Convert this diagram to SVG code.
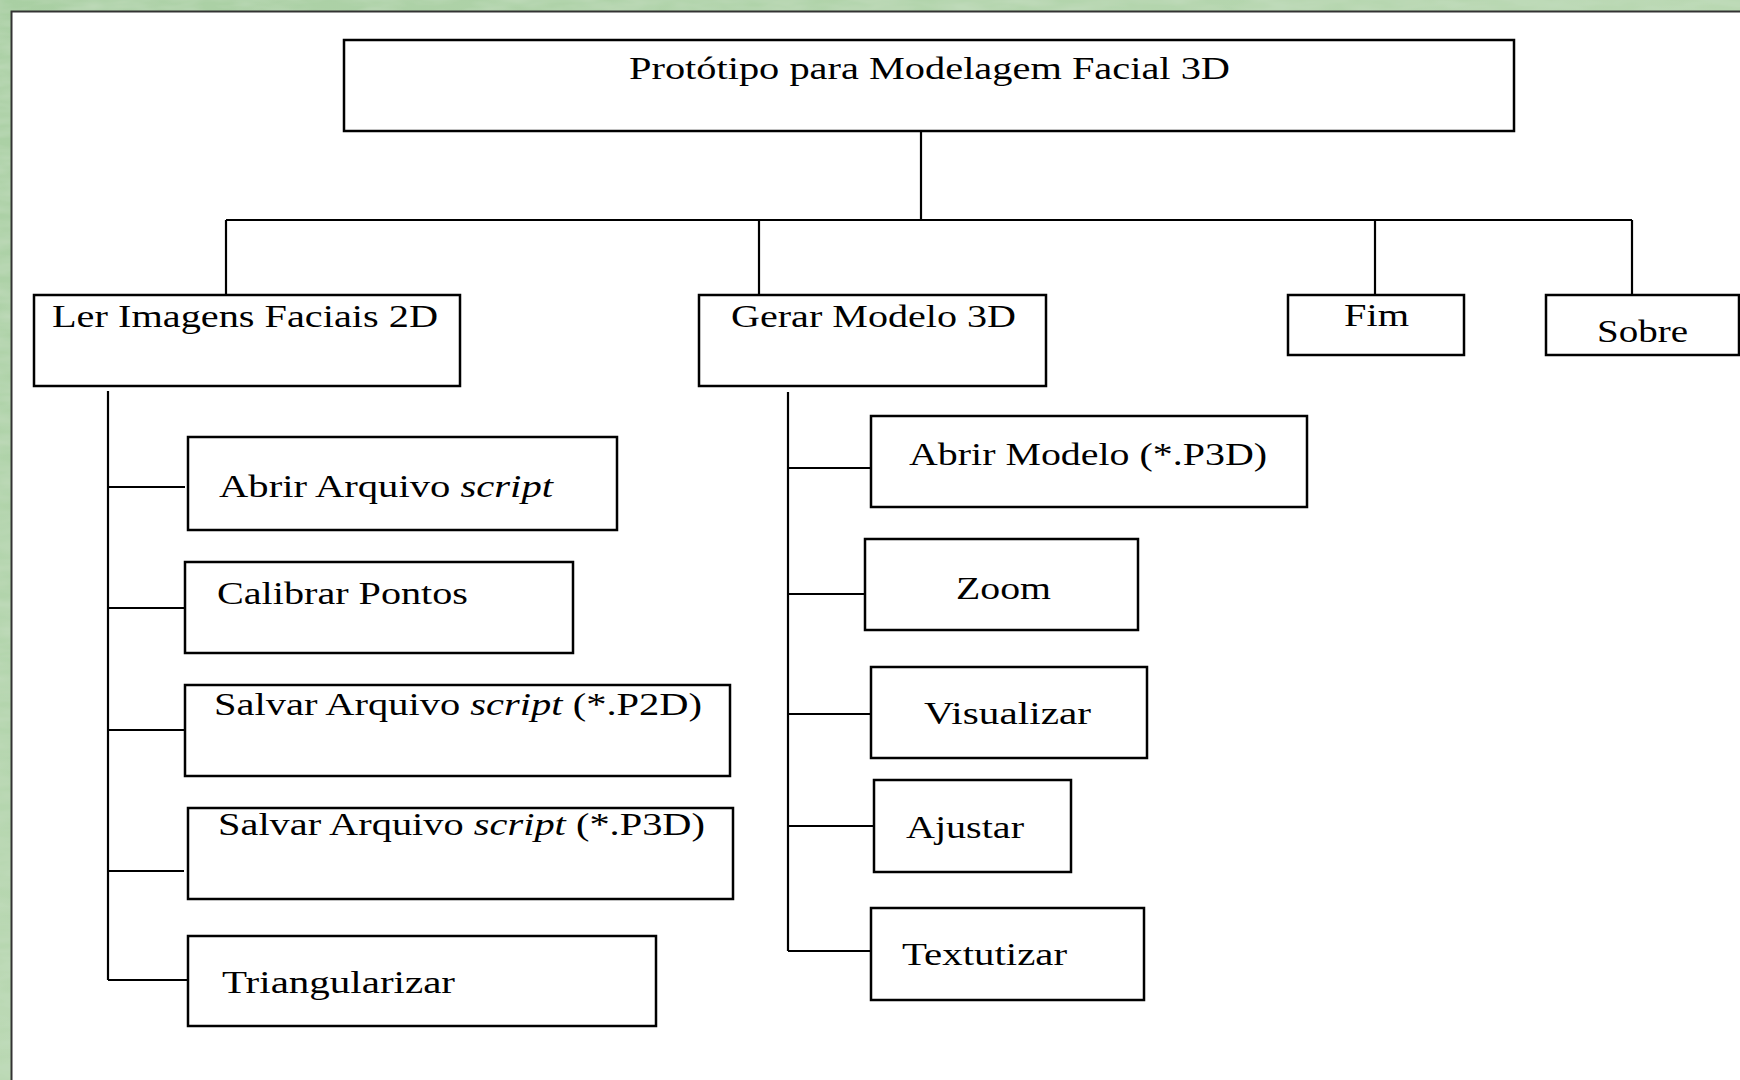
<svg xmlns="http://www.w3.org/2000/svg" width="1740" height="1080" viewBox="0 0 1740 1080">
  <defs>
    <linearGradient id="bg" x1="0" y1="0" x2="1" y2="1">
      <stop offset="0" stop-color="#a9cfa3"/>
      <stop offset="0.5" stop-color="#b9d8b2"/>
      <stop offset="1" stop-color="#9cc69a"/>
    </linearGradient>
    <filter id="marble" x="0" y="0" width="1" height="1">
      <feTurbulence type="fractalNoise" baseFrequency="0.02 0.08" numOctaves="3" seed="4" result="n"/>
      <feColorMatrix in="n" type="matrix" values="0 0 0 0 0.55  0 0 0 0 0.72  0 0 0 0 0.52  0 0 0 1.2 -0.35" result="c"/>
      <feComposite in="c" in2="SourceGraphic" operator="atop"/>
    </filter>
  </defs>
  <style>
    .box { fill: #ffffff; stroke: #000000; stroke-width: 2.5; }
    .ln { fill: none; stroke: #000000; stroke-width: 2.2; }
    .t { font-family: "Liberation Serif", "Times New Roman", serif; font-size: 31px; fill: #000000; }
    .i { font-style: italic; }
  </style>

  <rect x="0" y="0" width="1740" height="1080" fill="url(#bg)"/>
  <rect x="0" y="0" width="1740" height="1080" fill="url(#bg)" filter="url(#marble)"/>
  <rect x="11.5" y="11.5" width="1740" height="1080" fill="#ffffff" stroke="#333333" stroke-width="2"/>

  <g id="connectors">
    <line class="ln" x1="921" y1="131" x2="921" y2="220"/>
    <line class="ln" x1="226" y1="220" x2="1632" y2="220"/>
    <line class="ln" x1="226" y1="220" x2="226" y2="295"/>
    <line class="ln" x1="759" y1="220" x2="759" y2="295"/>
    <line class="ln" x1="1375" y1="220" x2="1375" y2="295"/>
    <line class="ln" x1="1632" y1="220" x2="1632" y2="295"/>

    <line class="ln" x1="108" y1="391" x2="108" y2="980"/>
    <line class="ln" x1="108" y1="487" x2="185" y2="487"/>
    <line class="ln" x1="108" y1="608" x2="185" y2="608"/>
    <line class="ln" x1="108" y1="730" x2="185" y2="730"/>
    <line class="ln" x1="108" y1="871" x2="184" y2="871"/>
    <line class="ln" x1="108" y1="980" x2="188" y2="980"/>

    <line class="ln" x1="788" y1="392" x2="788" y2="951"/>
    <line class="ln" x1="788" y1="468" x2="871" y2="468"/>
    <line class="ln" x1="788" y1="594" x2="865" y2="594"/>
    <line class="ln" x1="788" y1="714" x2="871" y2="714"/>
    <line class="ln" x1="788" y1="826" x2="874" y2="826"/>
    <line class="ln" x1="788" y1="951" x2="871" y2="951"/>
  </g>

  <g id="root">
    <rect class="box" x="344" y="40" width="1170" height="91"/>
    <text class="t" x="629" y="79" textLength="601" lengthAdjust="spacingAndGlyphs">Protótipo para Modelagem Facial 3D</text>
  </g>

  <g id="ler-imagens">
    <rect class="box" x="34" y="295" width="426" height="91"/>
    <text class="t" x="52" y="327" textLength="386" lengthAdjust="spacingAndGlyphs">Ler Imagens Faciais 2D</text>
  </g>
  <g id="gerar-modelo">
    <rect class="box" x="699" y="295" width="347" height="91"/>
    <text class="t" x="731" y="327" textLength="285" lengthAdjust="spacingAndGlyphs">Gerar Modelo 3D</text>
  </g>
  <g id="fim">
    <rect class="box" x="1288" y="295" width="176" height="60"/>
    <text class="t" x="1344" y="326" textLength="65" lengthAdjust="spacingAndGlyphs">Fim</text>
  </g>
  <g id="sobre">
    <rect class="box" x="1546" y="295" width="193" height="60"/>
    <text class="t" x="1597" y="342" textLength="91" lengthAdjust="spacingAndGlyphs">Sobre</text>
  </g>

  <g id="abrir-arquivo">
    <rect class="box" x="188" y="437" width="429" height="93"/>
    <text class="t" x="219" y="497" textLength="334" lengthAdjust="spacingAndGlyphs">Abrir Arquivo <tspan class="i">script</tspan></text>
  </g>
  <g id="calibrar">
    <rect class="box" x="185" y="562" width="388" height="91"/>
    <text class="t" x="217" y="604" textLength="251" lengthAdjust="spacingAndGlyphs">Calibrar Pontos</text>
  </g>
  <g id="salvar-p2d">
    <rect class="box" x="185" y="685" width="545" height="91"/>
    <text class="t" x="214" y="715" textLength="488" lengthAdjust="spacingAndGlyphs">Salvar Arquivo <tspan class="i">script</tspan> (*.P2D)</text>
  </g>
  <g id="salvar-p3d">
    <rect class="box" x="188" y="808" width="545" height="91"/>
    <text class="t" x="218" y="835" textLength="487" lengthAdjust="spacingAndGlyphs">Salvar Arquivo <tspan class="i">script</tspan> (*.P3D)</text>
  </g>
  <g id="triangularizar">
    <rect class="box" x="188" y="936" width="468" height="90"/>
    <text class="t" x="222" y="993" textLength="233" lengthAdjust="spacingAndGlyphs">Triangularizar</text>
  </g>

  <g id="abrir-modelo">
    <rect class="box" x="871" y="416" width="436" height="91"/>
    <text class="t" x="909" y="465" textLength="358" lengthAdjust="spacingAndGlyphs">Abrir Modelo (*.P3D)</text>
  </g>
  <g id="zoom">
    <rect class="box" x="865" y="539" width="273" height="91"/>
    <text class="t" x="956" y="599" textLength="95" lengthAdjust="spacingAndGlyphs">Zoom</text>
  </g>
  <g id="visualizar">
    <rect class="box" x="871" y="667" width="276" height="91"/>
    <text class="t" x="924" y="724" textLength="167" lengthAdjust="spacingAndGlyphs">Visualizar</text>
  </g>
  <g id="ajustar">
    <rect class="box" x="874" y="780" width="197" height="92"/>
    <text class="t" x="906" y="838" textLength="118" lengthAdjust="spacingAndGlyphs">Ajustar</text>
  </g>
  <g id="textutizar">
    <rect class="box" x="871" y="908" width="273" height="92"/>
    <text class="t" x="902" y="965" textLength="165" lengthAdjust="spacingAndGlyphs">Textutizar</text>
  </g>
</svg>
